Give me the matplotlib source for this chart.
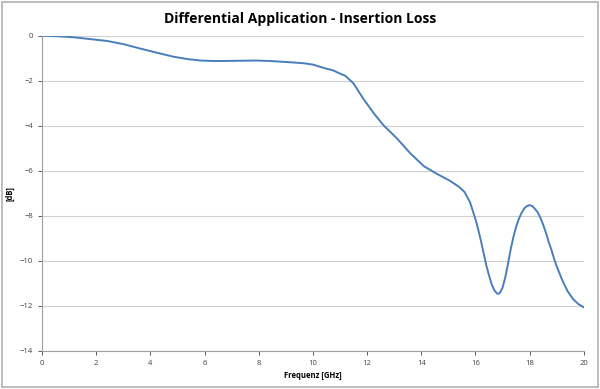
import matplotlib.pyplot as plt

# data
freq = [0, 0.6, 1.2, 1.8, 2.4, 3.0, 3.6, 4.2, 4.85, 5.4, 5.85, 6.3, 6.7,
        7.3, 7.9, 8.4, 8.8, 9.2, 9.65, 10.0, 10.4, 10.75, 11.0, 11.2, 11.5,
        11.85, 12.25, 12.6, 13.1, 13.6, 14.1, 14.55, 15.05, 15.4, 15.6, 15.8,
        16.0, 16.1, 16.2, 16.3, 16.4, 16.5, 16.6, 16.7, 16.8, 16.85, 16.9,
        17.0, 17.1, 17.2, 17.3, 17.4, 17.5, 17.6, 17.7, 17.8, 17.9, 18.0,
        18.1, 18.2, 18.3, 18.4, 18.5, 18.6, 18.7, 18.8, 18.9, 19.0, 19.2,
        19.4, 19.6, 19.8, 20.0]
loss = [0, -0.02, -0.07, -0.15, -0.23, -0.37, -0.56, -0.74, -0.93, -1.04,
        -1.1, -1.12, -1.12, -1.11, -1.1, -1.12, -1.15, -1.18, -1.22, -1.28,
        -1.43, -1.54, -1.68, -1.78, -2.12, -2.78, -3.45, -3.97, -4.56, -5.23,
        -5.8, -6.12, -6.44, -6.72, -6.95, -7.4, -8.15, -8.6, -9.1, -9.65,
        -10.2, -10.65, -11.05, -11.32, -11.46, -11.47, -11.43, -11.2, -10.75,
        -10.15, -9.5, -8.95, -8.5, -8.15, -7.88, -7.68, -7.57, -7.53, -7.57,
        -7.7, -7.85, -8.1, -8.4, -8.75, -9.15, -9.5, -9.9, -10.25, -10.85,
        -11.35, -11.7, -11.93, -12.07]
xticks = list(range(0, 21, 2))
yticks = list(range(-14, 1, 2))

plt.rcParams['font.family'] = ['Open Sans', 'DejaVu Sans']

fig = plt.figure(figsize=(6, 3.89), dpi=100)
ax = fig.add_axes([0.07, 0.0985, 0.903, 0.8095])

ax.plot(freq, loss, color='#4a7ebb', lw=1.4)

ax.set_xlim(0, 20)
ax.set_ylim(-14, 0)
ax.set_xticks(xticks)
ax.set_yticks(yticks)
ax.tick_params(labelsize=5.5, colors='#404040', length=3, width=0.6)
for t in ax.get_xticklines() + ax.get_yticklines():
    t.set_color('#a0a0a0')
ax.grid(axis='y', color='#d0d0d0', lw=0.8)
ax.set_axisbelow(True)
for s in ['top', 'right']:
    ax.spines[s].set_visible(False)
for s in ['left', 'bottom']:
    ax.spines[s].set_color('#a0a0a0')
    ax.spines[s].set_linewidth(0.8)

ax.set_xlabel('Frequenz [GHz]', fontsize=5.5, fontweight='bold', labelpad=3)
ax.set_ylabel('[dB]', fontsize=5.5, fontweight='bold')
ax.yaxis.set_label_coords(-0.05, 0.5)
fig.suptitle('Differential Application - Insertion Loss', fontsize=10,
             fontweight='bold', y=0.97)

# outer chart border
fig.patches.append(plt.Rectangle((0.003, 0.004), 0.994, 0.99, transform=fig.transFigure,
                                 fill=False, edgecolor='#b0b0b0', lw=1.2))

fig.savefig('out.png', dpi=100)
